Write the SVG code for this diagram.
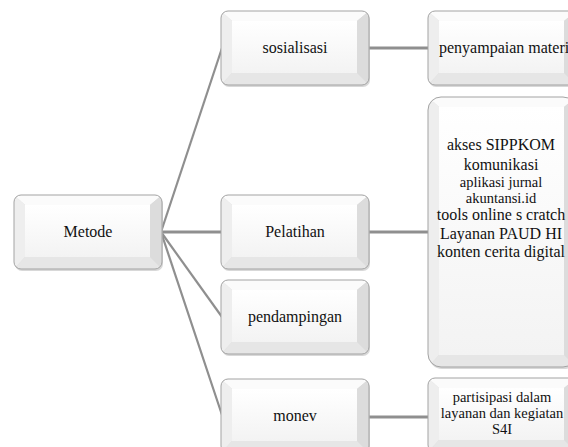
<svg xmlns="http://www.w3.org/2000/svg" xmlns:xlink="http://www.w3.org/1999/xlink" width="568" height="447" viewBox="0 0 568 447">
<style>
text{font-family:"Liberation Serif","Times New Roman",serif;font-size:16px;fill:#111;text-anchor:middle}
text.s{font-size:14.5px}
.c{stroke:#8f8f8f;stroke-width:2.2;fill:none}
.h{stroke-width:3}
.sh{fill:#b8b8b8;opacity:.55}
.top{fill:#fbfbfb}
.lf{fill:#eeeeee}
.rt{fill:#dcdcdc}
.bt{fill:#e6e6e6}
.face{fill:url(#fg)}
.ol{fill:none;stroke:#a3a3a3;stroke-width:1}
</style>
<defs>
<linearGradient id="fg" x1="0" y1="0" x2="0" y2="1">
<stop offset="0" stop-color="#ffffff"/>
<stop offset="1" stop-color="#f3f3f3"/>
</linearGradient>
<clipPath id="cr"><rect x="0" y="0" width="148" height="74" rx="7"/></clipPath>
<clipPath id="crb"><rect x="0" y="0" width="148" height="270" rx="13"/></clipPath>
<g id="bev">
<rect class="sh" x="1" y="2" width="148" height="74" rx="7"/>
<g clip-path="url(#cr)">
<polygon class="top" points="0,0 148,0 136,10 11,10"/>
<polygon class="lf" points="0,0 11,10 11,62 0,74"/>
<polygon class="rt" points="148,0 136,10 136,62 148,74"/>
<polygon class="bt" points="0,74 11,62 136,62 148,74"/>
<rect class="face" x="11" y="10" width="125" height="52"/>
</g>
<rect class="ol" x="0" y="0" width="148" height="74" rx="7"/>
</g>
</defs>

<g id="connectors">
<line class="c" x1="161" y1="232" x2="222" y2="48"/>
<line class="c h" x1="161" y1="232" x2="222" y2="232"/>
<line class="c" x1="161" y1="232" x2="222" y2="317"/>
<line class="c" x1="161" y1="232" x2="222" y2="415"/>
<line class="c h" x1="369" y1="48" x2="428" y2="48"/>
<line class="c h" x1="369" y1="232" x2="428" y2="232"/>
<line class="c h" x1="369" y1="417" x2="428" y2="417"/>
</g>

<g id="metode">
<use xlink:href="#bev" x="14" y="195"/>
<text x="88" y="237">Metode</text>
</g>
<g id="sosialisasi">
<use xlink:href="#bev" x="221" y="11"/>
<text x="295" y="53">sosialisasi</text>
</g>
<g id="pelatihan">
<use xlink:href="#bev" x="221" y="195"/>
<text x="295" y="237">Pelatihan</text>
</g>
<g id="pendampingan">
<use xlink:href="#bev" x="221" y="280"/>
<text x="295" y="322">pendampingan</text>
</g>
<g id="monev">
<use xlink:href="#bev" x="221" y="379"/>
<text x="295" y="421">monev</text>
</g>
<g id="penyampaian">
<use xlink:href="#bev" x="428" y="11"/>
<text x="439" y="53" style="text-anchor:start">penyampaian materi</text>
</g>
<g id="pelatihan-detail">
<g transform="translate(428,97)">
<rect class="sh" x="1" y="2" width="148" height="270" rx="13"/>
<g clip-path="url(#crb)">
<polygon class="top" points="0,0 148,0 136,10 11,10"/>
<polygon class="lf" points="0,0 11,10 11,258 0,270"/>
<polygon class="rt" points="148,0 136,10 136,258 148,270"/>
<polygon class="bt" points="0,270 11,258 136,258 148,270"/>
<rect class="face" x="11" y="10" width="125" height="248"/>
</g>
<rect class="ol" x="0" y="0" width="148" height="270" rx="13"/>
</g>
<text x="501" y="150">akses SIPPKOM</text>
<text x="501" y="170">komunikasi</text>
<text class="s" x="501" y="187">aplikasi jurnal</text>
<text class="s" x="501" y="203">akuntansi.id</text>
<text x="501" y="220">tools online  s cratch</text>
<text x="501" y="239">Layanan PAUD HI</text>
<text x="501" y="257">konten cerita digital</text>
</g>
<g id="partisipasi">
<use xlink:href="#bev" x="428" y="378"/>
<text class="s" x="502" y="402">partisipasi dalam</text>
<text class="s" x="502" y="418">layanan dan kegiatan</text>
<text class="s" x="502" y="434">S4I</text>
</g>
</svg>
